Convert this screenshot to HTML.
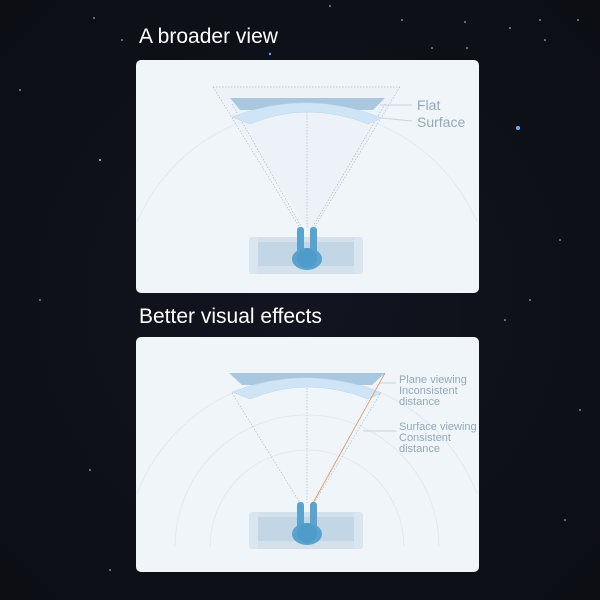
<!DOCTYPE html>
<html><head><style>
html,body{margin:0;padding:0;background:#0f1118;overflow:hidden;width:600px;height:600px;}
svg{display:block;overflow:hidden;position:absolute;left:0;top:0;}
</style></head><body>
<svg width="600" height="600" viewBox="0 0 600 600" xmlns="http://www.w3.org/2000/svg">
<defs>
<radialGradient id="bg" cx="0.5" cy="0.5" r="0.7"><stop offset="0" stop-color="#121520"/><stop offset="1" stop-color="#0c0e14"/></radialGradient>
<g id="person">
  <rect x="249" y="237" width="114" height="37" rx="4" fill="#d4e1ec"/>
  <rect x="258" y="242" width="96" height="24" fill="#c3d6e5"/>
  <rect x="249" y="237" width="9" height="37" rx="3" fill="#d9e5ef"/>
  <rect x="354" y="237" width="9" height="37" rx="3" fill="#d9e5ef"/>
  <rect x="297" y="227" width="7" height="28" rx="3" fill="#5aa3cf"/>
  <rect x="310" y="227" width="7" height="28" rx="3" fill="#5aa3cf"/>
  <ellipse cx="307" cy="259" rx="15" ry="11" fill="#5aa3cf"/>
  <circle cx="307" cy="258" r="10" fill="#4f9bc9"/>
</g>
</defs>
<rect width="600" height="600" fill="url(#bg)"/>
<g fill="#c8d6ee">
<circle cx="518" cy="128" r="2" fill="#6fb0ff"/><circle cx="270" cy="54" r="1.2" fill="#5aa0ff"/>
<circle cx="330" cy="6" r="0.8"/><circle cx="402" cy="20" r="0.8"/><circle cx="465" cy="22" r="0.8"/>
<circle cx="510" cy="28" r="0.8"/><circle cx="540" cy="20" r="0.8"/><circle cx="578" cy="20" r="0.8"/>
<circle cx="432" cy="48" r="0.8"/><circle cx="467" cy="48" r="0.8"/><circle cx="545" cy="40" r="0.8"/>
<circle cx="94" cy="18" r="0.8"/><circle cx="122" cy="40" r="0.8"/><circle cx="100" cy="160" r="1"/>
<circle cx="560" cy="240" r="0.8"/><circle cx="40" cy="300" r="0.8"/><circle cx="530" cy="300" r="0.8"/>
<circle cx="505" cy="320" r="0.8"/><circle cx="90" cy="470" r="0.8"/><circle cx="565" cy="520" r="0.8"/>
<circle cx="20" cy="90" r="0.8"/><circle cx="580" cy="410" r="0.8"/><circle cx="110" cy="570" r="0.8"/>
</g>
<g font-family="'Liberation Sans',sans-serif" fill="#fff" font-size="21">
<text x="139" y="43">A broader view</text>
<text x="139" y="323">Better visual effects</text>
</g>

<!-- Panel 1 -->
<rect x="136" y="60" width="343" height="233" rx="5" fill="#f0f5fa"/>
<path d="M137 222 A185 185 0 0 1 477 222" fill="none" stroke="#e2e9f0" stroke-width="1"/>
<path d="M213 87 L400 87 L310 230 Z" fill="#e8f0f6" opacity="0.5"/>
<path d="M213 87 L400 87" stroke="#a8bccc" stroke-width="0.7" stroke-dasharray="1.5,1.5"/>
<g stroke="#9fb3c4" stroke-width="0.6" stroke-dasharray="1.5,1.5" fill="none">
<path d="M213 87 L300 228 M400 87 L314 228 M232 104 L302 228 M385 104 L312 228 M307 112 L307 228"/>
</g>
<path d="M230 98 L385 98 L373 110 L240 110 Z" fill="#a9c8e0"/>
<path d="M232 117 Q307 88 382 118 L368 124 Q307 100 250 124 Z" fill="#cfe5f5" stroke="#b9d6ec" stroke-width="0.5"/>
<path d="M380 105 L412 105 M382 118 L412 121" stroke="#c6d3de" stroke-width="1"/>
<g font-family="'Liberation Sans',sans-serif" fill="#95a8b8" font-size="14">
<text x="417" y="110">Flat</text><text x="417" y="127">Surface</text>
</g>
<use href="#person"/>

<!-- Panel 2 -->
<rect x="136" y="337" width="343" height="235" rx="5" fill="#f0f5fa"/>
<g fill="none" stroke="#e2e9f0" stroke-width="1">
<path d="M137 494 A182 182 0 0 1 477 494"/>
<path d="M175 547 A132 132 0 0 1 439 547"/>
<path d="M210 547 A97 97 0 0 1 404 547"/>
</g>
<path d="M229 373 L385 373 L372 385 L242 385 Z" fill="#a9c8e0"/>
<path d="M232 392 Q307 363 382 393 L368 399 Q307 375 250 399 Z" fill="#cfe5f5" stroke="#b9d6ec" stroke-width="0.5"/>
<g stroke="#9fb3c4" stroke-width="0.6" stroke-dasharray="1.5,1.5" fill="none">
<path d="M232 393 L300 503 M307 388 L307 503 M380 394 L314 503"/>
</g>
<path d="M385 373 L313 503" stroke="#e0905a" stroke-width="0.8"/>
<path d="M380 383 L396 383 M363 431 L396 431" stroke="#c6d3de" stroke-width="1"/>
<g font-family="'Liberation Sans',sans-serif" fill="#95a8b8" font-size="11">
<text x="399" y="383">Plane viewing</text><text x="399" y="394">Inconsistent</text><text x="399" y="405">distance</text>
<text x="399" y="430">Surface viewing</text><text x="399" y="441">Consistent</text><text x="399" y="452">distance</text>
</g>
<use href="#person" transform="translate(0,275)"/>
</svg>
</body></html>
